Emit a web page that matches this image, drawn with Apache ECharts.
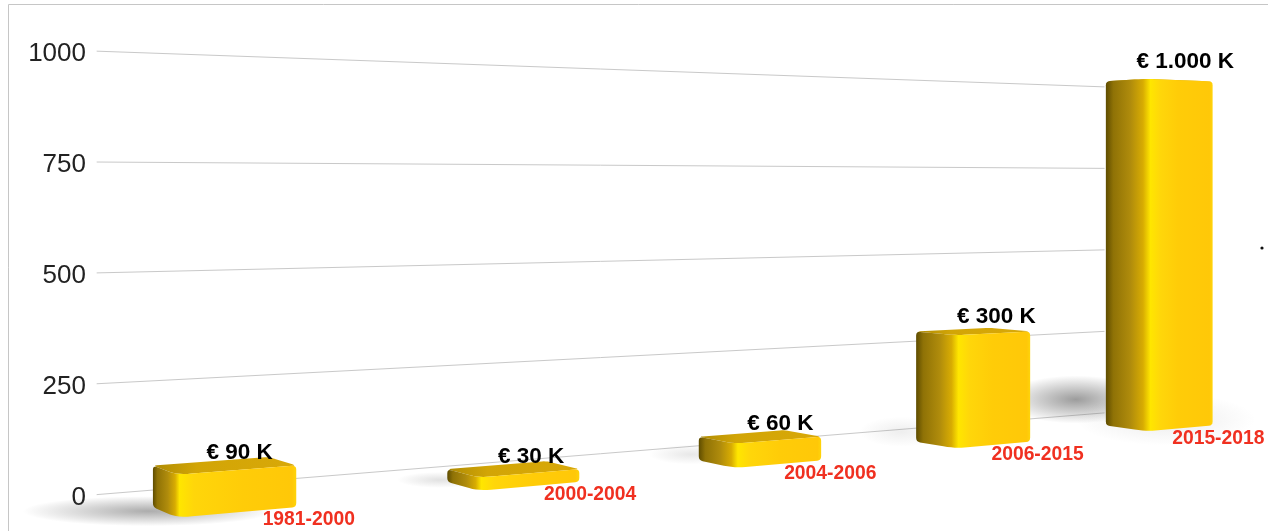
<!DOCTYPE html>
<html>
<head>
<meta charset="utf-8">
<title>chart</title>
<style>
html, body { margin: 0; padding: 0; background: #fff; }
#main { width: 1268px; height: 531px; }
</style>
<script src="https://cdn.jsdelivr.net/npm/echarts@6/dist/echarts.min.js"></script>
</head>
<body>
<div id="main"></div>
<script>
var categories = ['1981-2000', '2000-2004', '2004-2006', '2006-2015', '2015-2018'];
var values = [90, 30, 60, 300, 1000];
var valueLabels = ['€ 90 K', '€ 30 K', '€ 60 K', '€ 300 K', '€ 1.000 K'];
var yTicks = [0, 250, 500, 750, 1000];

var chart = echarts.init(document.getElementById('main'));

// grid plate, everything below is projected from its pixels
// (plate sits 3px low so the axis labels land where they should)
var GRID_LEFT = 92, GRID_RIGHT_X = 1105, GRID_TOP = 54, GRID_BASE = 498;
var BASE_Y = 495;
var X_MIN = -0.275, X_MAX = 4.11;
// vanishing points of the two floor directions
var VP_RIGHT = 3901, VP_LEFT = -600, HORIZON = 186;
var P_PER_PX = 0.000355;
// bar footprint, depth in front of the wall
var Q_FRONT = -0.0755, Q_BACK = -0.045, BAR_RATIO = 0.374;

var font = '"Liberation Sans", Arial, sans-serif';

function project(coord, q) {
    var p = (coord[0] - GRID_LEFT) * P_PER_PX;
    var w = 1 + p + q;
    return [
        (GRID_LEFT + p * VP_RIGHT + q * VP_LEFT) / w,
        HORIZON + (BASE_Y - HORIZON - (GRID_BASE - coord[1])) / w
    ];
}

// left corner -> rounded front corner -> right corner, at one height
function outline(x0, x1, yPx) {
    var pts = [];
    var rx = (x1 - x0) * 0.12, rq = (Q_BACK - Q_FRONT) * 0.3;
    pts.push(project([x0, yPx], Q_BACK));
    for (var k = 0; k <= 6; k++) {
        var t = k / 6;
        var a = (1 - t) * (1 - t), b = 2 * t * (1 - t), c = t * t;
        var px = a * x0 + b * x0 + c * (x0 + rx);
        var pq = a * (Q_FRONT + rq) + b * Q_FRONT + c * Q_FRONT;
        pts.push(project([px, yPx], pq));
    }
    pts.push(project([x1, yPx], Q_FRONT));
    return pts;
}

// swap the sharp vertices of a polygon for short curves
function softenCorners(poly, indices, r) {
    var out = [];
    poly.forEach(function (pt, idx) {
        if (indices.indexOf(idx) < 0) {
            out.push(pt);
            return;
        }
        var prev = poly[(idx - 1 + poly.length) % poly.length];
        var next = poly[(idx + 1) % poly.length];
        var toward = function (other) {
            var dx = other[0] - pt[0], dy = other[1] - pt[1];
            var len = Math.sqrt(dx * dx + dy * dy) || 1;
            var d = Math.min(r, len * 0.45);
            return [pt[0] + dx / len * d, pt[1] + dy / len * d];
        };
        var a = toward(prev), b = toward(next);
        for (var k = 0; k <= 4; k++) {
            var t = k / 4;
            out.push([
                (1 - t) * (1 - t) * a[0] + 2 * t * (1 - t) * pt[0] + t * t * b[0],
                (1 - t) * (1 - t) * a[1] + 2 * t * (1 - t) * pt[1] + t * t * b[1]
            ]);
        }
    });
    return out;
}

function renderGridLine(params, api) {
    var v = api.value(1);
    var a = project(api.coord([X_MIN + 0.015, v]), 0);
    var b = project(api.coord([X_MAX + 0.03, v]), 0);
    return {
        type: 'line',
        shape: { x1: a[0], y1: a[1], x2: b[0], y2: b[1] },
        style: { stroke: '#c9c9c9', lineWidth: 1 }
    };
}

// soft floor shadows: bar, offset from left base corner, radii, strength
var shadowLook = [
    [0, -5, 4, 125, 15, 0.5],
    [1, -8, -2, 42, 8, 0.18],
    [2, -8, -6, 42, 10, 0.14],
    [3, -15, -10, 42, 15, 0.1],
    [4, -30, -26, 72, 24, 0.6],
    [4, 60, -6, 90, 26, 0.12]
];

function renderShadow(params, api) {
    var s = shadowLook[params.dataIndex];
    var half = api.size([1, 0])[0] * BAR_RATIO / 2;
    var c = api.coord([s[0], 0]);
    var corner = project([c[0] - half, c[1]], Q_BACK);
    return {
        type: 'circle',
        x: corner[0] + s[1],
        y: corner[1] + s[2],
        scaleX: s[3] / s[4],
        shape: { cx: 0, cy: 0, r: s[4] },
        style: {
            fill: new echarts.graphic.RadialGradient(0.5, 0.5, 0.5, [
                { offset: 0, color: 'rgba(90,90,90,' + s[5] + ')' },
                { offset: 0.5, color: 'rgba(90,90,90,' + s[5] * 0.5 + ')' },
                { offset: 1, color: 'rgba(90,90,90,0)' }
            ])
        }
    };
}

function clamp01(t) { return Math.max(0, Math.min(1, t)); }

function renderBar(params, api) {
    var i = api.value(0);
    var c0 = api.coord([i, 0]);
    var c1 = api.coord([i, api.value(1)]);
    var half = api.size([1, 0])[0] * BAR_RATIO / 2;
    var x0 = c0[0] - half, x1 = c0[0] + half;

    var bottom = outline(x0, x1, c0[1]);
    var top = outline(x0, x1, c1[1]);
    var back = project([x1, c1[1]], Q_BACK);
    var n = bottom.length;
    var silhouette = softenCorners(
        bottom.concat(top.slice().reverse()),
        [0, n - 1, n, 2 * n - 1],
        4
    );

    var xs = silhouette.map(function (pt) { return pt[0]; });
    var lx = Math.min.apply(null, xs), rx = Math.max.apply(null, xs);
    var frontX = project([x0, c0[1]], Q_FRONT)[0];
    var ct = clamp01((frontX - lx) / (rx - lx));

    var sideFill = new echarts.graphic.LinearGradient(0, 0, 1, 0, [
        { offset: 0, color: '#5e4c00' },
        { offset: ct * 0.18, color: '#8f7206' },
        { offset: ct * 0.6, color: '#b08c0c' },
        { offset: ct * 0.9, color: '#d8ac02' },
        { offset: ct * 1.08, color: '#ffe600' },
        { offset: ct * 1.08 + 0.1, color: '#ffd60a' },
        { offset: 0.6 + ct * 0.2, color: '#ffcc08' },
        { offset: 0.97, color: '#ffc808' },
        { offset: 1, color: '#ffd40a' }
    ]);
    var topFill = new echarts.graphic.LinearGradient(0, 0, 1, 0, [
        { offset: 0, color: '#b08c04' },
        { offset: 0.3, color: '#d2a506' },
        { offset: 1, color: '#d8a808' }
    ]);

    var labelAnchor = project([c0[0], c1[1]], (Q_FRONT + Q_BACK) / 2);
    var rightBase = project([x1, c0[1]], Q_FRONT);

    return {
        type: 'group',
        children: [
            {
                type: 'polygon',
                shape: { points: softenCorners(top.concat([back]), [0, n - 1, n], 4) },
                style: { fill: topFill }
            },
            { type: 'polygon', shape: { points: silhouette }, style: { fill: sideFill } },
            {
                type: 'text',
                style: {
                    text: valueLabels[i],
                    x: labelAnchor[0] + 15 + 2.75 * i,
                    y: labelAnchor[1] - 12.5 - api.value(1) / 150,
                    align: 'center', verticalAlign: 'middle',
                    fontFamily: font, fontWeight: 'bold', fontSize: 22.5, fill: '#000'
                }
            },
            {
                type: 'text',
                style: {
                    text: categories[i],
                    x: rightBase[0] + 12.5 - 1.7 * i,
                    y: rightBase[1] + 13,
                    align: 'center', verticalAlign: 'middle',
                    fontFamily: font, fontWeight: 'bold', fontSize: 19.3, fill: '#f03020'
                }
            }
        ]
    };
}

var option = {
    animation: false,
    backgroundColor: '#fff',
    grid: { left: GRID_LEFT, right: 1268 - GRID_RIGHT_X, top: GRID_TOP, bottom: 531 - GRID_BASE },
    xAxis: { type: 'value', min: X_MIN, max: X_MAX, show: false },
    yAxis: {
        type: 'value', min: 0, max: 1000, interval: 250,
        axisLine: { show: false }, axisTick: { show: false }, splitLine: { show: false },
        axisLabel: {
            color: '#222', fontFamily: font, fontSize: 26, margin: 6,
            formatter: function (v) { return String(v); }
        }
    },
    graphic: [
        { type: 'line', shape: { x1: 8.5, y1: 4.5, x2: 1268, y2: 4.5 }, style: { stroke: '#c6c6c6', lineWidth: 1 } },
        { type: 'line', shape: { x1: 8.5, y1: 4.5, x2: 8.5, y2: 531 }, style: { stroke: '#c6c6c6', lineWidth: 1 } },
        { type: 'circle', shape: { cx: 1262, cy: 248, r: 1.6 }, style: { fill: '#111' } }
    ],
    series: [
        {
            type: 'custom', silent: true, clip: false, z: 1,
            renderItem: renderGridLine,
            data: yTicks.map(function (v) { return [X_MIN, v]; })
        },
        {
            type: 'custom', silent: true, clip: false, z: 2,
            renderItem: renderShadow,
            data: shadowLook.map(function (s) { return [s[0], 0]; })
        },
        {
            type: 'custom', silent: true, clip: false, z: 3,
            renderItem: renderBar,
            data: values.map(function (v, i) { return [i, v]; })
        }
    ]
};

chart.setOption(option);
</script>
</body>
</html>
